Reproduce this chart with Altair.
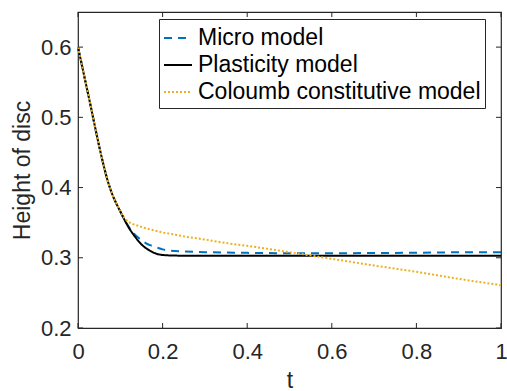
import altair as alt
import pandas as pd

# ---- data ----
t_vals = [0.0, 0.01, 0.02, 0.03, 0.04, 0.05, 0.06, 0.07, 0.08, 0.09, 0.10,
          0.11, 0.12, 0.13, 0.14, 0.15, 0.16, 0.17, 0.18, 0.19, 0.20, 0.22,
          0.25, 0.30, 0.35, 0.40, 0.50, 0.60, 0.70, 0.80, 0.90, 1.00]

micro = [0.600, 0.572, 0.544, 0.516, 0.487, 0.459, 0.433, 0.410, 0.392, 0.378, 0.366,
         0.354, 0.344, 0.336, 0.330, 0.325, 0.321, 0.318, 0.316, 0.314, 0.312, 0.310,
         0.309, 0.308, 0.3075, 0.307, 0.3065, 0.3065, 0.3068, 0.3072, 0.3078, 0.308]

plasticity = [0.600, 0.572, 0.544, 0.516, 0.487, 0.459, 0.433, 0.410, 0.392, 0.378, 0.366,
              0.354, 0.343, 0.334, 0.326, 0.319, 0.314, 0.310, 0.307, 0.305, 0.304, 0.3033,
              0.303, 0.303, 0.303, 0.303, 0.303, 0.303, 0.303, 0.303, 0.303, 0.303]

coloumb = [0.600, 0.572, 0.544, 0.516, 0.487, 0.459, 0.433, 0.410, 0.392, 0.378, 0.366,
           0.3565, 0.351, 0.348, 0.346, 0.344, 0.342, 0.3405, 0.339, 0.3375, 0.336, 0.334,
           0.3305, 0.326, 0.321, 0.317, 0.308, 0.2985, 0.289, 0.280, 0.270, 0.261]

series_names = ["Micro model", "Plasticity model", "Coloumb constitutive model"]
series_colors = ["#0072BD", "#000000", "#EDB120"]
series_dashes = [[8, 6], [1, 0], [2, 2]]

x_ticks = [0, 0.2, 0.4, 0.6, 0.8, 1.0]
y_ticks = [0.2, 0.3, 0.4, 0.5, 0.6]
x_domain = [0, 1]
y_domain = [0.2, 0.65]

rows = []
for name, vals in zip(series_names, [micro, plasticity, coloumb]):
    for tv, v in zip(t_vals, vals):
        rows.append({"t": tv, "h": v, "model": name})
df = pd.DataFrame(rows)

xt = pd.DataFrame({"t": x_ticks})
yt = pd.DataFrame({"h": y_ticks})

W, H = 423, 316
FONT = "Liberation Sans"
AX = "#262626"
TL = 5

xscale = alt.Scale(domain=x_domain, nice=False, zero=False)
yscale = alt.Scale(domain=y_domain, nice=False, zero=False)

x_axis = alt.Axis(values=x_ticks, format="~g", title="t", ticks=False,
                  labelPadding=13, labelFlush=False, titleY=59, titleBaseline="alphabetic",
                  titleFontSize=23, titleFont=FONT, titleFontWeight="normal",
                  titleColor=AX, domain=False, grid=False)
y_axis = alt.Axis(values=y_ticks, format=".1f", title="Height of disc", ticks=False,
                  labelPadding=7, labelFlush=False, titleX=-49, titleBaseline="alphabetic",
                  titleFontSize=23, titleFont=FONT, titleFontWeight="normal",
                  titleColor=AX, domain=False, grid=False)

legend = alt.Legend(title=None, orient="none", legendX=81, legendY=7,
                    symbolType="stroke", symbolSize=784,
                    symbolStrokeWidth=2, labelOffset=5,
                    labelFontSize=23, labelFont=FONT, labelColor="black",
                    labelExpr="datum.label + '\u00a0\u00a0'",
                    rowPadding=0, padding=4, strokeColor=AX,
                    fillColor="white", labelLimit=500)

lines = alt.Chart(df).mark_line(strokeWidth=2, interpolate="monotone").encode(
    x=alt.X("t:Q", scale=xscale, axis=x_axis),
    y=alt.Y("h:Q", scale=yscale, axis=y_axis),
    color=alt.Color("model:N", sort=series_names,
                    scale=alt.Scale(domain=series_names, range=series_colors),
                    legend=legend),
    strokeDash=alt.StrokeDash("model:N", sort=series_names,
                              scale=alt.Scale(domain=series_names, range=series_dashes),
                              legend=legend),
)

tick_bottom = alt.Chart(xt).mark_rule(color=AX, strokeWidth=1).encode(
    x=alt.X("t:Q", scale=xscale, axis=x_axis), y=alt.value(H), y2=alt.value(H - TL))
tick_top = alt.Chart(xt).mark_rule(color=AX, strokeWidth=1).encode(
    x=alt.X("t:Q", scale=xscale, axis=x_axis), y=alt.value(0), y2=alt.value(TL))
tick_left = alt.Chart(yt).mark_rule(color=AX, strokeWidth=1).encode(
    y=alt.Y("h:Q", scale=yscale, axis=y_axis), x=alt.value(0), x2=alt.value(TL))
tick_right = alt.Chart(yt).mark_rule(color=AX, strokeWidth=1).encode(
    y=alt.Y("h:Q", scale=yscale, axis=y_axis), x=alt.value(W), x2=alt.value(W - TL))

chart = alt.layer(lines, tick_bottom, tick_top, tick_left, tick_right).properties(
    width=W, height=H,
    autosize=alt.AutoSizeParams(type="none"),
    padding={"left": 78, "top": 12, "right": 6, "bottom": 63},
    background="white",
).configure_view(
    stroke=AX, strokeWidth=1.2
).configure_axis(
    labelFont=FONT, labelFontSize=22, labelColor=AX
)

chart.save("out.html", embed_options={"renderer": "svg", "actions": False})
